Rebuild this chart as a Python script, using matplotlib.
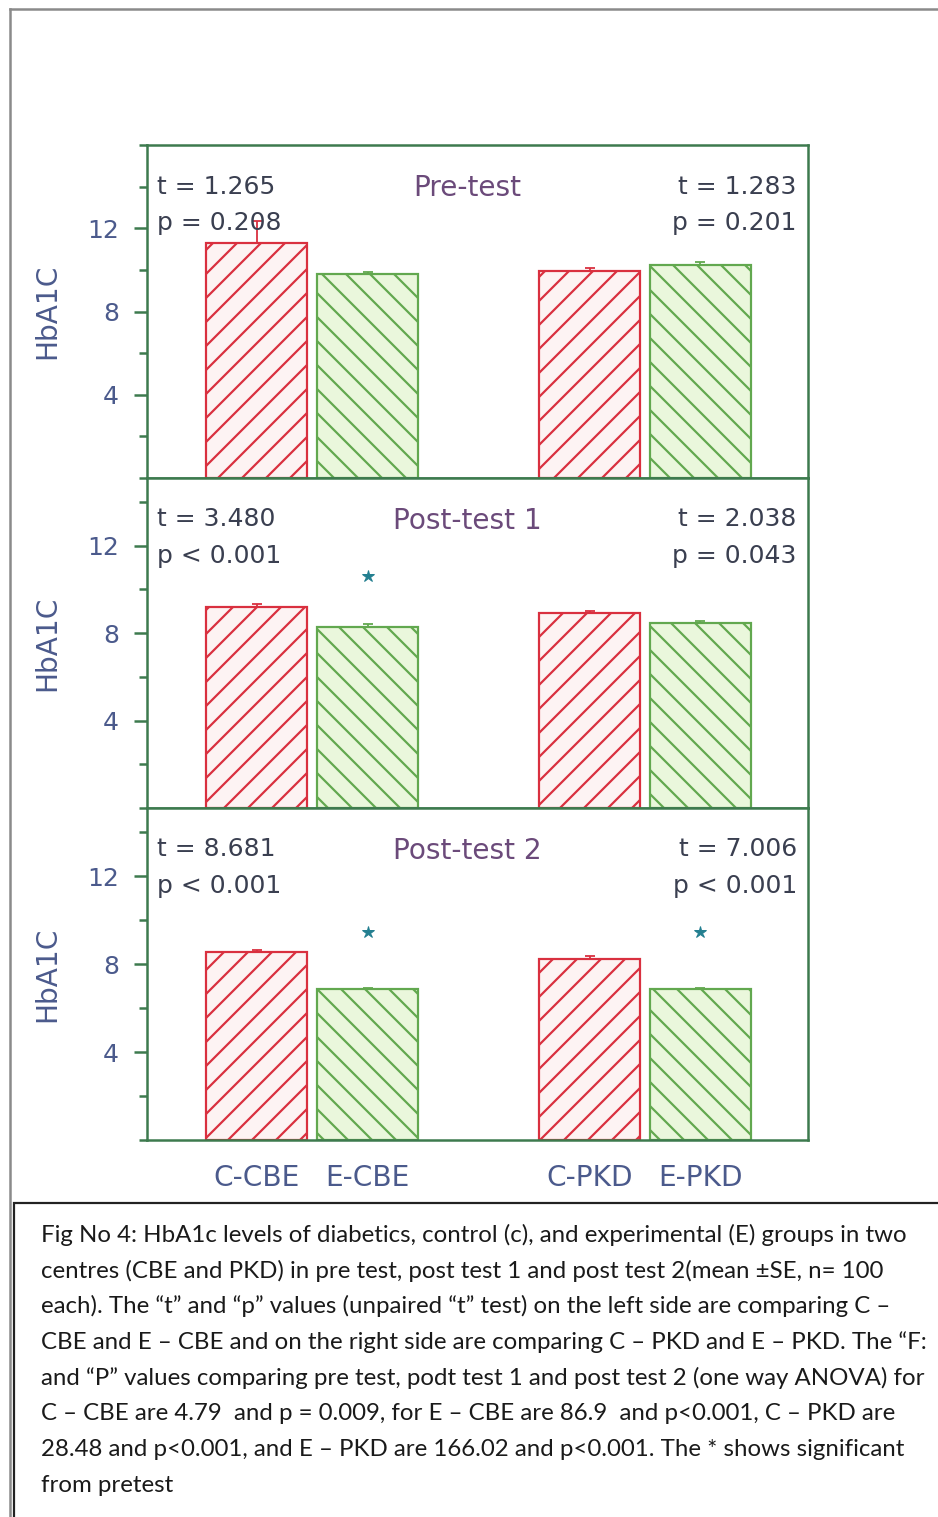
import numpy as np
import matplotlib
matplotlib.use("Agg")
import matplotlib.pyplot as plt
from matplotlib.lines import Line2D
from matplotlib.patches import Rectangle
from matplotlib.ticker import MultipleLocator

# groups and bar values (mean, SE)
groups = ['C-CBE', 'E-CBE', 'C-PKD', 'E-PKD']
panels = ['Pre-test', 'Post-test 1', 'Post-test 2']

pre_mean = [11.3, 9.8, 9.95, 10.25]
pre_se = [1.05, 0.12, 0.15, 0.12]
post1_mean = [9.2, 8.3, 8.9, 8.45]
post1_se = [0.15, 0.12, 0.12, 0.1]
post2_mean = [8.55, 6.85, 8.25, 6.85]
post2_se = [0.1, 0.08, 0.12, 0.08]

means = [pre_mean, post1_mean, post2_mean]
ses = [pre_se, post1_se, post2_se]

left_stats = [('t = 1.265', 'p = 0.208'), ('t = 3.480', 'p < 0.001'), ('t = 8.681', 'p < 0.001')]
right_stats = [('t = 1.283', 'p = 0.201'), ('t = 2.038', 'p = 0.043'), ('t = 7.006', 'p < 0.001')]

# star = significant from pretest: (panel, group index, height)
stars = [(1, 1, 10.6), (2, 1, 9.45), (2, 3, 9.45)]

yticks = [4, 8, 12]
ylims = [16, 15.1, 15.1]

caption = [
    "Fig No 4: HbA1c levels of diabetics, control (c), and experimental (E) groups in two",
    "centres (CBE and PKD) in pre test, post test 1 and post test 2(mean \u00b1SE, n= 100",
    "each). The \u201ct\u201d and \u201cp\u201d values (unpaired \u201ct\u201d test) on the left side are comparing C \u2013",
    "CBE and E \u2013 CBE and on the right side are comparing C \u2013 PKD and E \u2013 PKD. The \u201cF:",
    "and \u201cP\u201d values comparing pre test, podt test 1 and post test 2 (one way ANOVA) for",
    "C \u2013 CBE are 4.79  and p = 0.009, for E \u2013 CBE are 86.9  and p<0.001, C \u2013 PKD are",
    "28.48 and p<0.001, and E \u2013 PKD are 166.02 and p<0.001. The * shows significant",
    "from pretest",
]

W, H = 938, 1517
DPI = 72
pos = [0, 1, 3, 4]

green = '#3d7a4e'
red = '#d9303f'
lgreen = '#62a84f'
tickcol = '#4b5a8c'
txtcol = '#3a3f50'
titlecol = '#6b4a7a'
starcol = '#237f90'

plt.rcParams['hatch.linewidth'] = 2.2
plt.rcParams['font.family'] = ['DejaVu Sans']

fig = plt.figure(figsize=(W / DPI, H / DPI), dpi=DPI)

def fx(px):
    return px / W

def fy(py):
    return 1 - py / H

# page frame lines
fig.add_artist(Line2D([fx(10), fx(10)], [fy(9), fy(1517)], color='#8a8a8a', lw=2.5))
fig.add_artist(Line2D([fx(10), fx(938)], [fy(9), fy(9)], color='#8a8a8a', lw=2.5))

# panel boxes (top, bottom in pixels)
boxes = [(145, 478), (478, 808), (808, 1140)]
x0, x1 = 147, 808

for i, (top, bot) in enumerate(boxes):
    ax = fig.add_axes([fx(x0), fy(bot), fx(x1 - x0), (bot - top) / H])
    m = means[i]
    s = ses[i]
    for j in range(4):
        if j % 2 == 0:
            ec, fc, hatch = red, '#fdf3f3', '/'
        else:
            ec, fc, hatch = lgreen, '#eaf7dc', '\\'
        ax.bar(pos[j], m[j], width=0.91, color=fc, edgecolor=ec, hatch=hatch,
               linewidth=2.2, zorder=2)
        ax.errorbar(pos[j], m[j], yerr=[[0], [s[j]]], color=ec, capsize=5,
                    elinewidth=1.8, capthick=1.8, zorder=3)
    ax.set_xlim(-0.99, 4.97)
    ax.set_ylim(0, ylims[i])
    ax.set_yticks(yticks)
    ax.yaxis.set_minor_locator(MultipleLocator(2))
    for sp in ax.spines.values():
        sp.set_color(green)
        sp.set_linewidth(2.5)
    ax.tick_params(axis='y', which='major', length=13, width=2.5, color=green,
                   labelsize=25, labelcolor=tickcol, pad=15)
    ax.tick_params(axis='y', which='minor', length=8, width=2.5, color=green)
    if i == 2:
        ax.set_xticks(pos)
        ax.set_xticklabels(groups)
        ax.tick_params(axis='x', length=0, labelsize=28, labelcolor=tickcol, pad=24)
    else:
        ax.set_xticks([])
    ax.set_ylabel('HbA1C', fontsize=28, color=tickcol)
    ax.yaxis.set_label_coords(-0.13, 0.5)

    ax.text(0.015, 0.875, left_stats[i][0], transform=ax.transAxes, ha='left',
            va='center', fontsize=25, color=txtcol, zorder=5)
    ax.text(0.015, 0.765, left_stats[i][1], transform=ax.transAxes, ha='left',
            va='center', fontsize=25, color=txtcol, zorder=5)
    ax.text(0.983, 0.875, right_stats[i][0], transform=ax.transAxes, ha='right',
            va='center', fontsize=25, color=txtcol, zorder=5)
    ax.text(0.983, 0.765, right_stats[i][1], transform=ax.transAxes, ha='right',
            va='center', fontsize=25, color=txtcol, zorder=5)
    ax.text(0.485, 0.87, panels[i], transform=ax.transAxes, ha='center',
            va='center', fontsize=28, color=titlecol, zorder=5)

    for (pi, gi, h) in stars:
        if pi == i:
            ax.plot(pos[gi], h, marker='*', markersize=13, color=starcol, zorder=4)

# caption box
fig.add_artist(Rectangle((fx(14), fy(1530)), fx(940 - 14), (1530 - 1203) / H,
                         fill=False, edgecolor='#222222', linewidth=2.2))
line_y = [1235, 1271, 1306, 1342, 1378, 1414, 1450, 1486]
for txt, yy in zip(caption, line_y):
    fig.text(fx(41), fy(yy), txt, ha='left', va='center', fontsize=24,
             family=['Lato', 'DejaVu Sans'], color='#1a1a1a')

fig.savefig('out.png', dpi=DPI)
